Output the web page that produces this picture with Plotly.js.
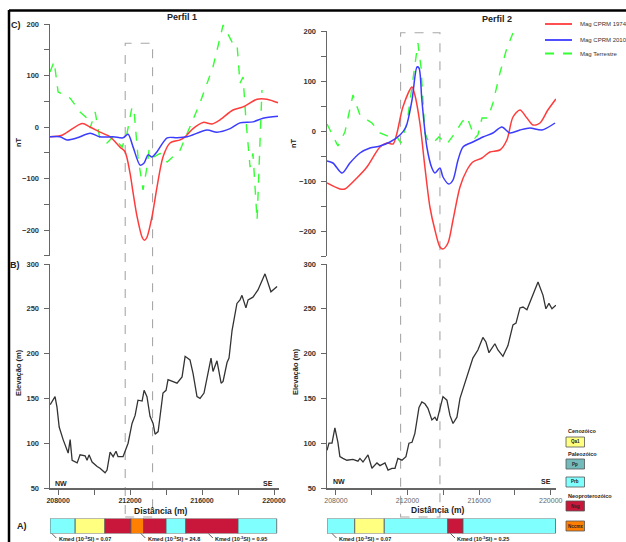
<!DOCTYPE html>
<html>
<head>
<meta charset="utf-8">
<script src="https://cdn.plot.ly/plotly-3.0.1.min.js"></script>
<style>html,body{margin:0;padding:0;background:#fff;}#chart{width:626px;height:542px;}</style>
</head>
<body>
<div id="chart"></div>
<script>
// ---------- DATA ----------
// Perfil 1 – magnetic anomalies (nT)
const p1_m74_x = [207550,208220,209330,209780,210330,210890,211440,211720,212000,212170,212390,212670,212800,212940,213220,213500,213830,214220,214780,215060,215500,216060,216560,217000,217720,218280,219060,219610,220220];
const p1_m74_y = [-19,-16,7,0,-10,-19,-39,-48,-90,-128,-174,-214,-220,-214,-174,-116,-58,-31,-25,-19,-3,9,6,14,33,39,54,54,47];
const p1_m10_x = [207550,208110,208500,209060,209780,210330,211060,211610,211890,212170,212560,212780,213000,213220,213500,214060,214610,215170,216280,216830,217560,218110,218830,219390,220220];
const p1_m10_y = [-19,-19,-25,-21,-12,-19,-19,-21,-14,-39,-74,-70,-54,-58,-48,-21,-21,-19,-6,-10,-3,8,10,17,21];
const p1_ter_x = [207550,207780,208000,208670,209220,209610,209780,210060,210330,210720,211060,211560,211830,212110,212220,212440,212720,212940,213060,213330,213670,214060,214780,215170,215890,216610,217170,217670,217940,218110,218280,218440,218670,218830,219060,219330];
const p1_ter_y = [107,127,68,56,29,17,-2,29,-25,-31,-19,-39,-12,39,33,-58,-122,-78,-43,-58,-51,-68,-45,-12,47,117,198,165,163,85,97,14,-78,-51,-181,72];
// Perfil 1 – elevation (m)
const p1_el_x = [207560,207830,207940,208060,208280,208500,208560,208670,208780,209060,209220,209500,209610,209720,209890,210170,210330,210610,210720,210890,211060,211220,211330,211610,211890,212110,212280,212440,212670,212780,212940,213110,213280,213390,213560,213830,214000,214110,214390,214610,214890,215060,215330,215500,215720,215890,216110,216330,216500,216610,216830,217060,217170,217390,217500,217670,217940,218110,218220,218440,218560,218830,219110,219500,219830,220170];
const p1_el_y = [143,152,140,118,104,92,89,104,81,78,87,86,81,87,79,74,72,67,70,90,85,91,85,85,100,122,131,148,147,159,152,130,122,110,113,156,159,171,169,167,174,197,193,178,152,150,156,176,195,180,192,167,169,190,195,226,256,260,265,251,260,263,271,289,269,275];

// Perfil 2 – magnetic anomalies (nT)
const p2_m74_x = [207500,208220,208500,209170,209730,210460,210850,211190,211410,211740,212250,212410,212690,212970,213250,213530,213810,213980,214260,214540,214930,215320,215650,216160,216600,217160,217550,217890,218280,218670,219010,219400,219840,220290];
const p2_m74_y = [-104,-116,-116,-94,-72,-32,-24,-26,-4,48,88,72,16,-72,-152,-198,-232,-236,-224,-178,-112,-78,-62,-54,-42,-38,-18,28,42,26,12,16,42,64];
const p2_m10_x = [207500,207830,208340,208780,209340,209900,210460,211020,211580,211910,212250,212530,212640,212800,213080,213360,213530,213810,213980,214310,214540,214820,215100,215650,216210,216770,217270,217720,218280,218840,219510,220240];
const p2_m10_y = [-60,-64,-84,-64,-44,-34,-30,-22,-8,8,62,128,126,62,-32,-74,-84,-74,-92,-106,-98,-58,-32,-22,-12,-4,8,-4,2,6,2,16];
const p2_ter_x = [207500,208110,208500,208950,209340,209620,210010,210460,211020,211410,211630,211970,212410,212580,212750,212970,213140,213420,213750,214200,214650,215040,215320,215540,215770,215930,216160,216490,216770,217160,217550,217890];
const p2_ter_y = [14,-30,-2,72,32,26,16,-4,-12,-12,-24,16,128,176,128,-4,-18,-24,-12,-26,-4,18,28,8,-14,-8,26,26,56,116,166,196];
// Perfil 2 – elevation (m)
const p2_el_x = [207500,207610,207780,207940,208110,208220,208390,208610,208950,209230,209340,209510,209790,210010,210290,210460,210740,210910,211130,211300,211460,211690,211910,212080,212250,212410,212640,212800,212970,213140,213360,213530,213640,213750,213980,214200,214370,214540,214760,214930,215320,215650,215930,216210,216380,216550,216880,217050,217330,217610,217890,218060,218280,218450,218670,218950,219290,219570,219730,219900,220070,220290];
const p2_el_y = [92,100,100,117,101,85,83,81,82,80,83,79,87,72,78,75,78,70,72,72,83,81,85,100,101,111,140,146,144,139,126,129,125,134,152,148,131,122,129,150,173,195,204,218,213,201,211,204,197,209,232,234,251,252,249,263,280,265,250,256,250,254];

// A) geology strips: boundaries (m) and units
const a1_bounds = [207550,208950,210600,212050,212750,214000,215100,218000,220150];
const a1_units  = ['Prb','Qa1','Nsg','Nccmx','Nsg','Prb','Nsg','Prb'];
const a2_bounds = [207500,209050,210700,214250,215100,220270];
const a2_units  = ['Prb','Qa1','Prb','Nsg','Prb'];
const kmed1 = [{x:207650,t:'0.07'},{x:212600,t:'24.8'},{x:216350,t:'0.95'}];
const kmed2 = [{x:207780,t:'0.07'},{x:214400,t:'0.25'}];

// dashed window boxes (m)
const box1 = [211730, 213250];
const box2 = [211612, 213810];

// ticks
const xTick0 = 208000, xTickStep = 4000, xMinorStep = 2000;
const nTTick0 = 0, nTStep = 100, nTMinor = 50;
const elTick0 = 50, elStep = 50;

// ---------- LAYOUT HELPERS ----------
const W = 626, H = 542;
const px = x => x / W;
const py = y => 1 - y / H;
const unitColor = {Qa1:'#ffff80', Pp:'#74baba', Prb:'#80ffff', Nsg:'#c8173a', Nccmx:'#ff8000'};
const FONT = 'Liberation Sans, Arial, sans-serif';

const cRed = '#ff3c3c', cBlue = '#3c3cff', cGreen = '#33ff33';

function magTraces(xa, ya, m74x, m74y, m10x, m10y, tx, ty) {
  return [
    {x: tx, y: ty, xaxis: xa, yaxis: ya, mode: 'lines', line: {color: cGreen, width: 1.4, dash: 'dash'}},
    {x: m74x, y: m74y, xaxis: xa, yaxis: ya, mode: 'lines', line: {color: cRed, width: 1.5, shape: 'spline', smoothing: 0.8}},
    {x: m10x, y: m10y, xaxis: xa, yaxis: ya, mode: 'lines', line: {color: cBlue, width: 1.5, shape: 'spline', smoothing: 0.8}}
  ];
}
function stripTrace(xa, ya, bounds, units) {
  const base = bounds.slice(0, -1);
  const w = base.map((b, i) => bounds[i + 1] - b);
  return {type: 'bar', orientation: 'h', xaxis: xa, yaxis: ya, y: base.map(() => 0.5), x: w, base: base, width: 1,
    marker: {color: units.map(u => unitColor[u]), line: {color: '#555', width: 0.8}}};
}

const traces = [
  ...magTraces('x', 'y', p1_m74_x, p1_m74_y, p1_m10_x, p1_m10_y, p1_ter_x, p1_ter_y),
  {x: p1_el_x, y: p1_el_y, xaxis: 'x2', yaxis: 'y2', mode: 'lines', line: {color: '#333', width: 1.3}},
  ...magTraces('x3', 'y3', p2_m74_x, p2_m74_y, p2_m10_x, p2_m10_y, p2_ter_x, p2_ter_y),
  {x: p2_el_x, y: p2_el_y, xaxis: 'x4', yaxis: 'y4', mode: 'lines', line: {color: '#333', width: 1.3}},
  stripTrace('x5', 'y5', a1_bounds, a1_units),
  stripTrace('x6', 'y6', a2_bounds, a2_units)
];

const r1 = [207550, 220300], r2 = [207500, 220300];
const d1 = [px(50), px(279.4)], d2 = [px(327), px(556.1)];
const tfB = {family: FONT, size: 7.5, color: '#333', weight: 'bold'};
const yAx = (dom, range, tick0, dtick, minor, anchor) => ({domain: dom, range: range, anchor: anchor, showline: true, linecolor: '#666', linewidth: 1.5,
  ticks: 'outside', ticklen: 5, tickcolor: '#666', tickwidth: 1, tickmode: 'linear', tick0: tick0, dtick: dtick,
  minor: minor ? {dtick: minor, tick0: tick0, ticks: 'outside', ticklen: 5, tickcolor: '#666', showgrid: false} : undefined,
  tickfont: tfB, showgrid: false, zeroline: false, ticklabelstandoff: 3});
const xHidden = (dom, r, anchor) => ({domain: dom, range: r, anchor: anchor, visible: false, showgrid: false, zeroline: false});
const xAx = (dom, r, font, anchor) => ({domain: dom, range: r, anchor: anchor, showline: true, linecolor: '#666', linewidth: 1.5,
  ticks: 'outside', ticklen: 5, tickcolor: '#666', tickmode: 'linear', tick0: xTick0, dtick: xTickStep,
  minor: {dtick: xMinorStep, tick0: xTick0, ticks: 'outside', ticklen: 5, tickcolor: '#666', showgrid: false},
  tickformat: 'd', tickfont: font, showgrid: false, zeroline: false});

const shapes = [];
const annotations = [];
const ann = (x, y, text, o = {}) => annotations.push(Object.assign({xref: 'paper', yref: 'paper', x: px(x), y: py(y), text: text, showarrow: false,
  font: {family: FONT, size: o.size || 7, color: o.color || '#222', weight: o.weight || 'bold'}, xanchor: o.xa || 'center', yanchor: 'middle'}, o.extra || {}));
const line = (x0, y0, x1, y1, color, width, dash) => shapes.push({type: 'line', xref: 'paper', yref: 'paper', x0: px(x0), y0: py(y0), x1: px(x1), y1: py(y1), line: {color: color, width: width, dash: dash || 'solid'}});

// frame
line(9, 10.5, 626, 10.5, '#000', 2.5);
line(9, 10, 9, 542, '#000', 2.5);

// dashed windows
shapes.push({type: 'rect', xref: 'x2', yref: 'paper', x0: box1[0], x1: box1[1], y0: py(517), y1: py(43.3), line: {color: '#a8a8a8', width: 1.1, dash: 'dash'}, layer: 'below'});
shapes.push({type: 'rect', xref: 'x4', yref: 'paper', x0: box2[0], x1: box2[1], y0: py(517), y1: py(32.7), line: {color: '#a8a8a8', width: 1.1, dash: 'dash'}, layer: 'below'});

// titles and panel labels
ann(182, 17, 'Perfil 1', {size: 9});
ann(497, 19, 'Perfil 2', {size: 9});
ann(16, 25, 'C)', {size: 9});
ann(15, 265, 'B)', {size: 9});
ann(22, 526, 'A)', {size: 9});
ann(18, 142, 'nT', {size: 7.5, extra: {textangle: -90}});
ann(293, 143, 'nT', {size: 7.5, extra: {textangle: -90}});
ann(18, 373, 'Elevação (m)', {size: 7.5, extra: {textangle: -90}});
ann(295, 372, 'Elevação (m)', {size: 7.5, extra: {textangle: -90}});
ann(161, 511, 'Distância (m)', {size: 8.5});
ann(438, 510, 'Distância (m)', {size: 8.5});
ann(53, 483, 'NW', {size: 7, xa: 'left'});
ann(275, 483, 'SE', {size: 7, xa: 'right'});
ann(331, 481, 'NW', {size: 7, xa: 'left'});
ann(553, 481, 'SE', {size: 7, xa: 'right'});

// Kmed labels with leaders
const kmedLabel = (xaxisRange, dom, k) => {
  const frac = (k.x - xaxisRange[0]) / (xaxisRange[1] - xaxisRange[0]);
  const xp = (dom[0] + frac * (dom[1] - dom[0])) * W;
  line(xp, 533.5, xp + 4.5, 538, '#333', 0.8);
  ann(xp + 5, 539, 'Kmed (10<sup>-3</sup>SI) = ' + k.t, {size: 5.5, xa: 'left'});
};
kmed1.forEach(k => kmedLabel(r1, d1, k));
kmed2.forEach(k => kmedLabel(r2, d2, k));

// magnetic legend
line(545, 24, 572, 24, cRed, 1.8);
line(545, 40, 572, 40, cBlue, 1.8);
line(545, 53.5, 572, 53.5, cGreen, 1.8, 'dash');
ann(578, 24, 'Mag CPRM 1974', {size: 6, xa: 'left', weight: 'normal', color: '#333'});
ann(578, 40, 'Mag CPRM 2010', {size: 6, xa: 'left', weight: 'normal', color: '#333'});
ann(578, 54, 'Mag Terrestre', {size: 6, xa: 'left', weight: 'normal', color: '#333'});

// geology legend
const geoBox = (y0, y1, unit) => {
  shapes.push({type: 'rect', xref: 'paper', yref: 'paper', x0: px(566), x1: px(584.5), y0: py(y1), y1: py(y0), fillcolor: unitColor[unit], line: {color: '#555', width: 0.8}});
  ann(575.2, (y0 + y1) / 2, unit, {size: 4.5});
};
ann(566, 431, 'Cenozóico', {size: 5.5, xa: 'left'});
geoBox(437, 447, 'Qa1');
ann(566, 454, 'Paleozóico', {size: 5.5, xa: 'left'});
geoBox(459, 469, 'Pp');
geoBox(477, 487, 'Prb');
ann(566, 496, 'Neoproterozóico', {size: 5.5, xa: 'left'});
geoBox(501, 511, 'Nsg');
geoBox(521, 531, 'Nccmx');

const layout = {
  width: W, height: H, margin: {l: 0, r: 0, t: 0, b: 0}, paper_bgcolor: '#fff', plot_bgcolor: 'rgba(0,0,0,0)',
  showlegend: false, hovermode: false, barmode: 'overlay',
  xaxis: xHidden(d1, r1, 'y'),
  yaxis: yAx([py(255.8), py(24)], [-250, 200], nTTick0, nTStep, nTMinor, 'x'),
  xaxis2: xAx(d1, r1, {family: FONT, size: 7, color: '#333', weight: 'bold'}, 'y2'),
  yaxis2: yAx([py(488), py(264)], [50, 300], elTick0, elStep, null, 'x2'),
  xaxis3: xHidden(d2, r2, 'y3'),
  yaxis3: yAx([py(256), py(31)], [-250, 200], nTTick0, nTStep, nTMinor, 'x3'),
  xaxis4: xAx(d2, r2, {family: FONT, size: 7, color: '#666'}, 'y4'),
  yaxis4: yAx([py(488), py(264)], [50, 300], elTick0, elStep, null, 'x4'),
  xaxis5: xHidden(d1, r1, 'y5'),
  yaxis5: {domain: [py(533.5), py(518.5)], range: [0, 1], visible: false, anchor: 'x5'},
  xaxis6: xHidden(d2, r2, 'y6'),
  yaxis6: {domain: [py(533.5), py(518.5)], range: [0, 1], visible: false, anchor: 'x6'},
  shapes: shapes, annotations: annotations
};
Plotly.newPlot('chart', traces, layout, {staticPlot: true, displayModeBar: false});
</script>
</body>
</html>
